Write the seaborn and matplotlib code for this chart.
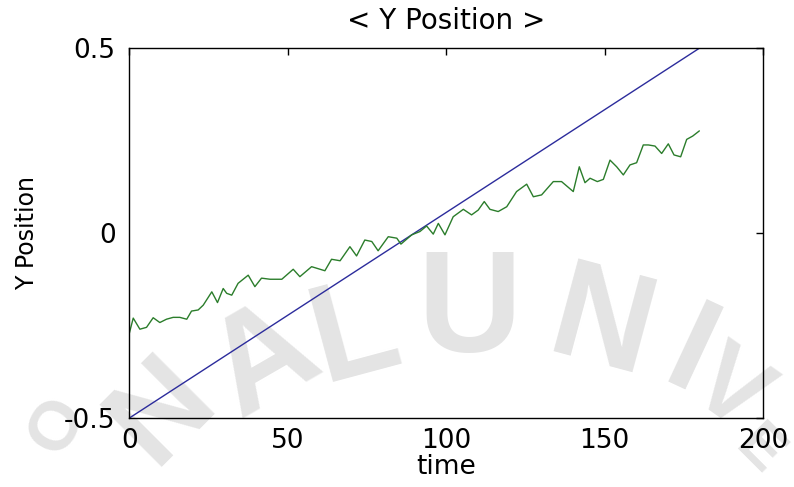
import matplotlib
matplotlib.use("Agg")
import matplotlib.pyplot as plt
import seaborn as sns
import pandas as pd

# ---- data ----
ref_time = [0, 180]
ref_y = [-0.5, 0.5]

meas_time = [0, 1.2, 3.3, 5.4, 7.5, 9.6, 11.7, 13.8, 15.9, 18.1, 19.6, 21.7, 23.3, 26.0,
             27.8, 29.6, 30.7, 32.3, 34.3, 37.5, 39.6, 41.7, 44.4, 48.1, 51.7, 53.8, 57.5,
             61.7, 63.8, 66.5, 69.6, 71.7, 74.3, 76.5, 78.5, 81.7, 84.4, 85.7, 89.1, 91.7,
             93.8, 95.9, 97.5, 99.6, 102.2, 105.4, 108.0, 110.1, 112.0, 113.8, 116.4, 119.1,
             122.2, 125.4, 127.5, 130.1, 133.8, 136.4, 140.1, 142.0, 143.8, 145.4, 147.7,
             149.6, 151.7, 153.8, 155.9, 158.0, 160.1, 162.2, 163.8, 165.9, 168.0, 170.1,
             171.9, 174.0, 175.9, 177.8, 179.9]
meas_y = [-0.27, -0.23, -0.26, -0.255, -0.229, -0.242, -0.233, -0.228, -0.228, -0.233,
          -0.211, -0.208, -0.195, -0.159, -0.188, -0.150, -0.163, -0.168, -0.136, -0.114,
          -0.145, -0.122, -0.125, -0.125, -0.098, -0.118, -0.091, -0.102, -0.071, -0.075,
          -0.037, -0.062, -0.019, -0.023, -0.048, -0.010, -0.014, -0.030, -0.005, 0.004,
          0.019, -0.003, 0.026, -0.005, 0.044, 0.064, 0.049, 0.062, 0.085, 0.064, 0.058,
          0.071, 0.112, 0.132, 0.098, 0.103, 0.139, 0.139, 0.112, 0.179, 0.136, 0.148,
          0.139, 0.145, 0.197, 0.179, 0.157, 0.184, 0.19, 0.238, 0.238, 0.235, 0.215,
          0.241, 0.211, 0.206, 0.253, 0.262, 0.276]

x_ticks = [0, 50, 100, 150, 200]
y_ticks = [-0.5, 0, 0.5]
y_tick_labels = ["-0.5", "0", "0.5"]

watermark_letters = ["O", "N", "A", "L", "U", "N", "I", "V", "E"]

# ---- style ----
sns.set_style("white")
plt.rcParams['font.family'] = ['DejaVu Sans']

fig = plt.figure(figsize=(7.94, 4.87), dpi=100)
fig.patch.set_facecolor("white")

# faint watermark behind the axes
wm_pos = [(0.072, 0.125), (0.205, 0.155), (0.334, 0.255), (0.447, 0.31), (0.592, 0.355),
          (0.758, 0.325), (0.868, 0.265), (0.917, 0.195), (0.955, 0.072)]
wm_rot = [60, 45, 30, 15, 0, -15, -25, -35, -45]
wm_size = [50, 92, 100, 100, 104, 100, 95, 74, 44]
for ch, (px, py), r, fs in zip(watermark_letters, wm_pos, wm_rot, wm_size):
    fig.text(px, py, ch, fontsize=fs, fontweight="bold", color="#e4e4e4",
             family="Liberation Sans", rotation=r, ha="center", va="center", zorder=0)

ax = fig.add_axes([0.163, 0.1417, 0.798, 0.7597])
ax.set_facecolor("none")
ax.set_zorder(2)

df_ref = pd.DataFrame({"time": ref_time, "y": ref_y})
df_meas = pd.DataFrame({"time": meas_time, "y": meas_y})

sns.lineplot(data=df_ref, x="time", y="y", ax=ax, color="#2c2c9c", linewidth=1.0)
sns.lineplot(data=df_meas, x="time", y="y", ax=ax, color="#2b7d2b", linewidth=1.0)

ax.set_xlim(0, 200)
ax.set_ylim(-0.5, 0.5)
ax.set_xticks(x_ticks)
ax.set_xticklabels([str(t) for t in x_ticks])
ax.set_yticks(y_ticks)
ax.set_yticklabels(y_tick_labels)

ax.tick_params(axis="both", direction="in", length=5, width=1, color="black",
               top=True, right=True, labelsize=19, labelcolor="black")
ax.tick_params(axis="x", pad=7)
ax.tick_params(axis="y", pad=10)

for s in ax.spines.values():
    s.set_visible(True)
    s.set_color("black")
    s.set_linewidth(1.0)

ax.set_title("< Y Position >", fontsize=20, pad=14, color="black")
ax.set_xlabel("time", fontsize=19, labelpad=0, color="black")
ax.set_ylabel("Y Position", fontsize=17, labelpad=18, color="black")

fig.savefig("out.png", dpi=100, facecolor="white")
